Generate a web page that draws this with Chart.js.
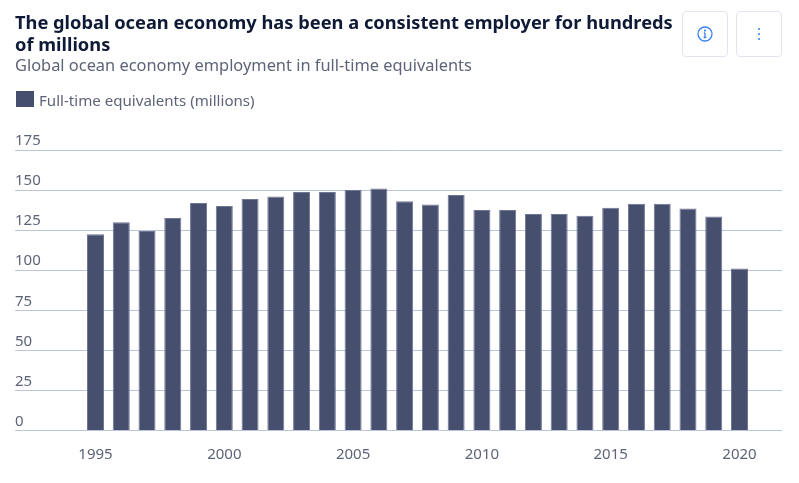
<!DOCTYPE html>
<html>
<head>
<meta charset="utf-8">
<title>Global ocean economy employment</title>
<script src="https://cdn.jsdelivr.net/npm/chart.js@4"></script>
<style>
  html, body { margin: 0; padding: 0; background: #fff; width: 799px; height: 483px; overflow: hidden; font-family: "Noto Sans", sans-serif; }
  #wrap { position: relative; width: 799px; height: 483px; }
  canvas { position: absolute; left: 0; top: 0; }
  h1 { position: absolute; left: 15px; top: 11px; width: 665px; margin: 0; font-size: 18.27px; line-height: 22px; font-weight: 700; color: #0f1a36; }
  h2 { position: absolute; left: 15px; top: 54px; margin: 0; font-size: 16.4px; line-height: 22px; font-weight: 400; color: #5d6478; white-space: nowrap; }
  #legend { position: absolute; left: 16px; top: 90px; font-size: 15.1px; line-height: 20px; color: #5d6478; white-space: nowrap; }
  #legend i { position: absolute; left: 0; top: 1px; width: 18px; height: 16px; background: #464f6e; }
  #legend span { margin-left: 23px; }
  .btn { position: absolute; top: 11px; width: 44px; height: 44px; border: 1px solid #dfe4ee; border-radius: 4px; background: #fff; }
  .btn svg { position: absolute; left: 13px; top: 13px; }
</style>
</head>
<body>
<div id="wrap">
  <canvas id="chart" width="799" height="483"></canvas>
  <h1>The global ocean economy has been a consistent employer for hundreds of millions</h1>
  <h2>Global ocean economy employment in full-time equivalents</h2>
  <div id="legend"><i></i><span id="legendText"></span></div>
  <div class="btn" style="left:682px">
    <svg width="18" height="18" viewBox="0 0 18 18" fill="none" stroke="#3b82f6" stroke-width="1.3">
      <circle cx="9" cy="9" r="7"/><path d="M9 8v4.5M7.6 12.5h2.8M7.8 8H9"/><circle cx="9" cy="5.6" r=".5" fill="#3b82f6"/>
    </svg>
  </div>
  <div class="btn" style="left:736px">
    <svg width="18" height="18" viewBox="0 0 18 18" fill="#3b82f6">
      <circle cx="9" cy="4" r="1.1"/><circle cx="9" cy="9" r="1.1"/><circle cx="9" cy="14" r="1.1"/>
    </svg>
  </div>
</div>
<script>
const years = [1995, 1996, 1997, 1998, 1999, 2000, 2001, 2002, 2003, 2004, 2005, 2006, 2007,
  2008, 2009, 2010, 2011, 2012, 2013, 2014, 2015, 2016, 2017, 2018, 2019, 2020];
const employment = [122.5, 130, 124.5, 132.5, 142, 140, 144.5, 146, 148.75, 148.75, 150, 151, 143,
  141, 147, 137.5, 137.5, 135, 135, 134, 139, 141.5, 141.5, 138.5, 133.5, 101];
const xTicks = [1995, 2000, 2005, 2010, 2015, 2020];
const yTicks = [0, 25, 50, 75, 100, 125, 150, 175];
const seriesName = "Full-time equivalents (millions)";

const textColor = "#5d6478";
const gridColor = "#bcc4d8";
const tickFont = { family: "'Noto Sans', sans-serif", size: 15 };

document.getElementById("legendText").textContent = seriesName;

new Chart(document.getElementById("chart"), {
  type: "bar",
  data: {
    datasets: [{
      label: seriesName,
      data: years.map((y, i) => ({ x: y, y: employment[i] })),
      backgroundColor: "#464f6e",
      borderColor: "#6f7795",
      borderWidth: 1,
      barPercentage: 0.66,
      categoryPercentage: 1
    }]
  },
  options: {
    responsive: false,
    animation: false,
    layout: { padding: { left: 15, right: 17, top: 150, bottom: 12.5 } },
    plugins: {
      tooltip: { enabled: false },
      legend: { display: false }
    },
    scales: {
      x: {
        type: "linear",
        offset: false,
        min: 1991.875,
        max: 2021.65,
        afterBuildTicks: axis => { axis.ticks = xTicks.map(v => ({ value: v })); },
        grid: { display: false },
        border: { display: false },
        ticks: { color: textColor, font: tickFont, padding: 7, maxRotation: 0, callback: v => String(v) }
      },
      y: {
        min: 0,
        max: 175,
        afterBuildTicks: axis => { axis.ticks = yTicks.map(v => ({ value: v })); },
        grid: { color: gridColor, lineWidth: 1, drawTicks: false },
        border: { display: false },
        ticks: { color: textColor, font: tickFont, mirror: true, padding: 0, labelOffset: -9, z: 1 }
      }
    }
  }
});
</script>
</body>
</html>
